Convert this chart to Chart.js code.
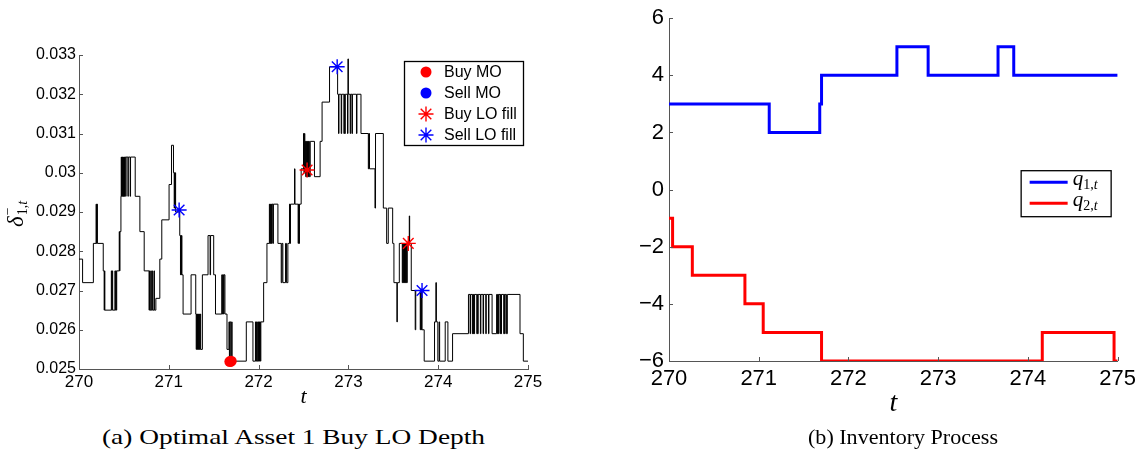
<!DOCTYPE html>
<html>
<head>
<meta charset="utf-8">
<script src="https://cdn.jsdelivr.net/npm/chart.js@4.4.1/dist/chart.umd.min.js"></script>
<style>
body { margin: 0; background: #fff; }
#wrap { position: relative; width: 1141px; height: 457px; overflow: hidden; background: #fff; }
canvas { position: absolute; top: 0; }
.cap { position: absolute; top: 427px; font: 21px "Liberation Serif", serif; line-height: 21px; white-space: nowrap; transform-origin: 0 0; color: #000; }
</style>
</head>
<body>
<div id="wrap">
    <canvas id="depth-chart" width="560" height="410" style="left:0px"></canvas>
    <canvas id="inv-chart" width="551" height="430" style="left:590px"></canvas>
    <div class="cap" id="cap-a">(a) Optimal Asset 1 Buy LO Depth</div>
    <div class="cap" id="cap-b">(b) Inventory Process</div>
</div>
<script>
// ---- data ----
// optimal buy depth, step path: [t, value held from t on]
var depthSteps = [
    [270.000, 0.0278], [270.040, 0.0272], [270.160, 0.0282], [270.190, 0.0292], [270.195, 0.0282],
    [270.200, 0.0292], [270.205, 0.0282], [270.270, 0.0275], [270.280, 0.0265], [270.284, 0.0275],
    [270.288, 0.0265], [270.360, 0.0275], [270.365, 0.0265], [270.370, 0.0275], [270.375, 0.0265],
    [270.400, 0.0275], [270.405, 0.0265], [270.410, 0.0275], [270.415, 0.0265], [270.420, 0.0275],
    [270.448, 0.0285], [270.452, 0.0275], [270.456, 0.0285], [270.467, 0.0294], [270.470, 0.0304],
    [270.474, 0.0294], [270.478, 0.0304], [270.482, 0.0294], [270.486, 0.0304], [270.490, 0.0294],
    [270.494, 0.0304], [270.498, 0.0294], [270.502, 0.0304], [270.506, 0.0294], [270.510, 0.0304],
    [270.520, 0.0294], [270.524, 0.0304], [270.545, 0.0294], [270.549, 0.0304], [270.570, 0.0294],
    [270.574, 0.0304], [270.626, 0.0294], [270.678, 0.0285], [270.726, 0.0275], [270.780, 0.0265],
    [270.785, 0.0275], [270.790, 0.0265], [270.800, 0.0275], [270.805, 0.0265], [270.815, 0.0275],
    [270.820, 0.0265], [270.835, 0.0275], [270.840, 0.0265], [270.856, 0.0268], [270.900, 0.0278],
    [270.922, 0.0288], [271.003, 0.0297], [271.030, 0.0307], [271.052, 0.0300], [271.060, 0.0291],
    [271.064, 0.0300], [271.068, 0.0291], [271.072, 0.0300], [271.076, 0.0290], [271.122, 0.0284],
    [271.130, 0.0274], [271.134, 0.0284], [271.138, 0.0274], [271.142, 0.0284], [271.146, 0.0274],
    [271.159, 0.0264], [271.248, 0.0274], [271.300, 0.0264], [271.305, 0.0255], [271.310, 0.0264],
    [271.315, 0.0255], [271.320, 0.0264], [271.325, 0.0255], [271.330, 0.0264], [271.335, 0.0255],
    [271.340, 0.0264], [271.345, 0.0255], [271.350, 0.0264], [271.355, 0.0255], [271.374, 0.0274],
    [271.437, 0.0284], [271.460, 0.0274], [271.465, 0.0284], [271.500, 0.0274], [271.520, 0.0264],
    [271.590, 0.0274], [271.595, 0.0264], [271.600, 0.0274], [271.610, 0.0264], [271.615, 0.0274],
    [271.625, 0.0264], [271.648, 0.0255], [271.670, 0.0262], [271.675, 0.0252], [271.680, 0.0262],
    [271.690, 0.0252], [271.700, 0.0262], [271.705, 0.0252], [271.863, 0.0262], [271.937, 0.0252],
    [271.965, 0.0262], [271.970, 0.0252], [271.975, 0.0262], [271.980, 0.0252], [271.990, 0.0262],
    [271.995, 0.0252], [272.000, 0.0262], [272.005, 0.0252], [272.010, 0.0262], [272.020, 0.0252],
    [272.025, 0.0262], [272.056, 0.0272], [272.093, 0.0282], [272.120, 0.0292], [272.125, 0.0282],
    [272.130, 0.0292], [272.135, 0.0282], [272.140, 0.0292], [272.145, 0.0282], [272.150, 0.0292],
    [272.160, 0.0282], [272.165, 0.0292], [272.215, 0.0282], [272.252, 0.0272], [272.260, 0.0282],
    [272.270, 0.0272], [272.300, 0.0282], [272.310, 0.0272], [272.326, 0.0282], [272.344, 0.0292],
    [272.350, 0.0282], [272.355, 0.0292], [272.400, 0.0301], [272.405, 0.0292], [272.440, 0.0282],
    [272.445, 0.0292], [272.450, 0.0282], [272.455, 0.0292], [272.474, 0.0301], [272.500, 0.0310],
    [272.505, 0.0300], [272.510, 0.0310], [272.515, 0.0300], [272.520, 0.0308], [272.525, 0.0299],
    [272.530, 0.0308], [272.535, 0.0299], [272.540, 0.0308], [272.545, 0.0299], [272.550, 0.0308],
    [272.555, 0.0299], [272.560, 0.0308], [272.565, 0.0299], [272.575, 0.0308], [272.622, 0.0299],
    [272.685, 0.0308], [272.707, 0.0318], [272.790, 0.0327], [272.880, 0.0320], [272.890, 0.0310],
    [272.895, 0.0320], [272.920, 0.0310], [272.925, 0.0320], [272.950, 0.0310], [272.955, 0.0320],
    [272.960, 0.0310], [272.965, 0.0320], [272.990, 0.0310], [272.995, 0.0329], [273.000, 0.0320],
    [273.020, 0.0310], [273.025, 0.0320], [273.040, 0.0310], [273.045, 0.0320], [273.090, 0.0310],
    [273.095, 0.0320], [273.140, 0.0310], [273.222, 0.0301], [273.228, 0.0310], [273.235, 0.0301],
    [273.296, 0.0291], [273.302, 0.0310], [273.389, 0.0291], [273.426, 0.0282], [273.444, 0.0291],
    [273.493, 0.0282], [273.507, 0.0272], [273.540, 0.0262], [273.545, 0.0272], [273.567, 0.0282],
    [273.600, 0.0272], [273.605, 0.0282], [273.610, 0.0272], [273.615, 0.0282], [273.620, 0.0272],
    [273.625, 0.0282], [273.630, 0.0272], [273.635, 0.0282], [273.640, 0.0272], [273.645, 0.0282],
    [273.650, 0.0272], [273.655, 0.0282], [273.678, 0.0289], [273.682, 0.0282], [273.700, 0.0270],
    [273.744, 0.0260], [273.750, 0.0270], [273.800, 0.0260], [273.805, 0.0270], [273.810, 0.0260],
    [273.815, 0.0270], [273.820, 0.0260], [273.844, 0.0252], [273.959, 0.0262], [273.974, 0.0272],
    [273.980, 0.0262], [273.996, 0.0252], [274.011, 0.0262], [274.016, 0.0252], [274.078, 0.0262],
    [274.108, 0.0252], [274.160, 0.0259], [274.337, 0.0269], [274.355, 0.0259], [274.360, 0.0269],
    [274.380, 0.0259], [274.385, 0.0269], [274.390, 0.0259], [274.395, 0.0269], [274.400, 0.0259],
    [274.405, 0.0269], [274.430, 0.0259], [274.435, 0.0269], [274.440, 0.0259], [274.445, 0.0269],
    [274.470, 0.0259], [274.475, 0.0269], [274.500, 0.0259], [274.505, 0.0269], [274.530, 0.0259],
    [274.535, 0.0269], [274.560, 0.0259], [274.565, 0.0269], [274.600, 0.0259], [274.650, 0.0269],
    [274.660, 0.0259], [274.665, 0.0269], [274.670, 0.0259], [274.675, 0.0269], [274.690, 0.0259],
    [274.695, 0.0269], [274.700, 0.0259], [274.705, 0.0269], [274.730, 0.0259], [274.735, 0.0269],
    [274.740, 0.0259], [274.745, 0.0269], [274.760, 0.0259], [274.770, 0.0269], [274.911, 0.0259],
    [274.948, 0.0252], [275.000, 0.0252]
];

// trade markers
var buyMoT = [271.680, 271.695];
var buyMoV = [0.02519, 0.0252];
var sellMoT = [];
var sellMoV = [];
var buyLoT = [272.540, 273.667];
var buyLoV = [0.03007, 0.0282];
var sellLoT = [271.115, 272.875, 273.820];
var sellLoV = [0.02905, 0.0327, 0.0270];

var depthTickLabels = ["0.025", "0.026", "0.027", "0.028", "0.029", "0.03", "0.031", "0.032", "0.033"];

// inventories
var q1T = [270, 271.117, 271.68, 271.70, 272.54, 272.888, 273.667, 273.842, 275];
var q1V = [3, 2, 3, 4, 5, 4, 5, 4, 4];
var q2T = [270, 270.04, 270.26, 270.846, 271.05, 271.70, 274.16, 274.96, 275];
var q2V = [-1, -2, -3, -4, -5, -6, -5, -6, -6];

var invTickLabels = ["\u22126", "\u22124", "\u22122", "0", "2", "4", "6"];

var AXIS_COLOR = "#555555";

function toPoints(ts, vs) {
    var out = [];
    for (var i = 0; i < ts.length; i++) {
        out.push({ x: ts[i], y: vs[i] });
    }
    return out;
}

// matlab style ticks pointing into the axes
var insideTicks = {
    id: "insideTicks",
    afterDraw: function (chart) {
        var ctx = chart.ctx;
        var area = chart.chartArea;
        var xs = chart.scales.x;
        var ys = chart.scales.y;
        ctx.save();
        ctx.strokeStyle = AXIS_COLOR;
        ctx.lineWidth = 1;
        ctx.beginPath();
        xs.ticks.forEach(function (t) {
            var px = Math.round(xs.getPixelForValue(t.value)) + 0.5;
            ctx.moveTo(px, area.bottom);
            ctx.lineTo(px, area.bottom - 4);
        });
        ys.ticks.forEach(function (t) {
            var py = Math.round(ys.getPixelForValue(t.value)) + 0.5;
            ctx.moveTo(area.left, py);
            ctx.lineTo(area.left + 4, py);
        });
        ctx.stroke();
        ctx.restore();
    }
};

function drawMarker(ctx, ds, x, y) {
    var r = ds.pointRadius;
    ctx.save();
    ctx.strokeStyle = ds.borderColor;
    ctx.fillStyle = ds.backgroundColor;
    ctx.lineWidth = ds.borderWidth || 1;
    ctx.beginPath();
    if (ds.pointStyle === "star") {
        ctx.moveTo(x - r, y); ctx.lineTo(x + r, y);
        ctx.moveTo(x, y - r); ctx.lineTo(x, y + r);
        var d = r * Math.SQRT1_2;
        ctx.moveTo(x - d, y - d); ctx.lineTo(x + d, y + d);
        ctx.moveTo(x - d, y + d); ctx.lineTo(x + d, y - d);
        ctx.stroke();
    } else {
        ctx.arc(x, y, r, 0, Math.PI * 2);
        ctx.fill();
    }
    ctx.restore();
}

// legend box + delta axis label for chart (a)
var depthDecor = {
    id: "depthDecor",
    afterDraw: function (chart) {
        var ctx = chart.ctx;
        var a = chart.chartArea;
        var bx = a.right - 124, by = a.top + 6, bw = 119, bh = 84;
        ctx.save();
        ctx.fillStyle = "#fff";
        ctx.fillRect(bx, by, bw, bh);
        ctx.strokeStyle = "#000";
        ctx.lineWidth = 1.3;
        ctx.strokeRect(bx + 0.5, by + 0.5, bw, bh);
        ctx.font = '16px "Liberation Sans"';
        ctx.textBaseline = "middle";
        ctx.fillStyle = "#000";
        var row = 0;
        chart.data.datasets.forEach(function (ds) {
            if (!ds.inLegend) return;
            var yy = by + 11 + row * 21;
            drawMarker(ctx, ds, bx + 22, yy);
            ctx.fillStyle = "#000";
            ctx.fillText(ds.label, bx + 40, yy + 1);
            row++;
        });

        // delta^-_{1,t}, rotated
        ctx.translate(23, 212);
        ctx.rotate(-Math.PI / 2);
        ctx.textBaseline = "alphabetic";
        ctx.font = 'italic 23px "Liberation Serif"';
        ctx.fillText("\u03b4", -15, 0);
        var sx = -15 + ctx.measureText("\u03b4").width + 1;
        ctx.font = '14px "Liberation Serif"';
        ctx.fillText("\u2212", sx, -11);
        ctx.fillText("1,", sx, 4);
        var w1 = ctx.measureText("1,").width;
        ctx.font = 'italic 14px "Liberation Serif"';
        ctx.fillText("t", sx + w1, 4);
        ctx.restore();
    }
};

// legend box for chart (b)
var invDecor = {
    id: "invDecor",
    afterDraw: function (chart) {
        var ctx = chart.ctx;
        var a = chart.chartArea;
        var bx = a.right - 97, by = a.top + 152, bw = 90, bh = 46;
        ctx.save();
        ctx.fillStyle = "#fff";
        ctx.fillRect(bx, by, bw, bh);
        ctx.strokeStyle = "#000";
        ctx.lineWidth = 1.3;
        ctx.strokeRect(bx + 0.5, by + 0.5, bw, bh);
        chart.data.datasets.forEach(function (ds, i) {
            var yy = by + 12 + i * 21;
            ctx.strokeStyle = ds.borderColor;
            ctx.lineWidth = 3;
            ctx.beginPath();
            ctx.moveTo(bx + 9, yy);
            ctx.lineTo(bx + 47, yy);
            ctx.stroke();
            ctx.fillStyle = "#000";
            ctx.textBaseline = "alphabetic";
            ctx.font = 'italic 21px "Liberation Serif"';
            ctx.fillText("q", bx + 52, yy + 3);
            var sx = bx + 52 + ctx.measureText("q").width;
            ctx.font = '14px "Liberation Serif"';
            ctx.fillText(ds.sub + ",", sx, yy + 7);
            var w = ctx.measureText(ds.sub + ",").width;
            ctx.font = 'italic 14px "Liberation Serif"';
            ctx.fillText("t", sx + w, yy + 7);
        });
        ctx.restore();
    }
};

var depthChart = new Chart(document.getElementById("depth-chart").getContext("2d"), {
    type: "line",
    data: {
        datasets: [
            {
                label: "Buy MO", type: "scatter", inLegend: true, order: 1,
                data: toPoints(buyMoT, buyMoV),
                pointStyle: "circle", pointRadius: 5.5, borderWidth: 0,
                backgroundColor: "#ff0000", borderColor: "#ff0000"
            },
            {
                label: "Sell MO", type: "scatter", inLegend: true, order: 1,
                data: toPoints(sellMoT, sellMoV),
                pointStyle: "circle", pointRadius: 5.5, borderWidth: 0,
                backgroundColor: "#0000ff", borderColor: "#0000ff"
            },
            {
                label: "Buy LO fill", type: "scatter", inLegend: true, order: 1,
                data: toPoints(buyLoT, buyLoV),
                pointStyle: "star", pointRadius: 7.5, borderWidth: 1.4,
                backgroundColor: "#ff0000", borderColor: "#ff0000"
            },
            {
                label: "Sell LO fill", type: "scatter", inLegend: true, order: 1,
                data: toPoints(sellLoT, sellLoV),
                pointStyle: "star", pointRadius: 7.5, borderWidth: 1.4,
                backgroundColor: "#0000ff", borderColor: "#0000ff"
            },
            {
                label: "depth", order: 2,
                data: depthSteps.map(function (p) { return { x: p[0], y: p[1] }; }),
                borderColor: "#000000", borderWidth: 1, stepped: true,
                pointRadius: 0, fill: false
            }
        ]
    },
    options: {
        responsive: false,
        animation: false,
        layout: { padding: { left: 0, right: 32, top: 55, bottom: 0 } },
        scales: {
            x: {
                type: "linear", min: 270, max: 275,
                ticks: { stepSize: 1, padding: 3, color: "#000", font: { family: "Liberation Sans", size: 17 } },
                grid: { display: false, drawTicks: false },
                border: { display: true, color: AXIS_COLOR, width: 1 },
                title: { display: true, text: "t", color: "#000", padding: { top: 0, bottom: 0 },
                    font: { family: "Liberation Serif", style: "italic", size: 22 } },
                afterFit: function (s) { s.height = 41; }
            },
            y: {
                type: "linear", min: 0.025, max: 0.033,
                ticks: {
                    stepSize: 0.001, padding: 3, color: "#000",
                    font: { family: "Liberation Sans", size: 16 },
                    callback: function (v, i) { return depthTickLabels[i]; }
                },
                grid: { display: false, drawTicks: false },
                border: { display: true, color: AXIS_COLOR, width: 1 },
                afterFit: function (s) { s.width = 79; }
            }
        },
        plugins: { legend: { display: false }, tooltip: { enabled: false } }
    },
    plugins: [insideTicks, depthDecor]
});

var invChart = new Chart(document.getElementById("inv-chart").getContext("2d"), {
    type: "line",
    data: {
        datasets: [
            {
                label: "q1", sub: "1",
                data: toPoints(q1T, q1V),
                borderColor: "#0000ff", borderWidth: 3, stepped: true, pointRadius: 0, fill: false
            },
            {
                label: "q2", sub: "2",
                data: toPoints(q2T, q2V),
                borderColor: "#ff0000", borderWidth: 3, stepped: true, pointRadius: 0, fill: false
            }
        ]
    },
    options: {
        responsive: false,
        animation: false,
        layout: { padding: { left: 0, right: 23, top: 11, bottom: 0 } },
        scales: {
            x: {
                type: "linear", min: 270, max: 275,
                ticks: { stepSize: 1, padding: 5, color: "#000", font: { family: "Liberation Sans", size: 22 } },
                grid: { display: false, drawTicks: false },
                border: { display: true, color: AXIS_COLOR, width: 1 },
                title: { display: true, text: "t", color: "#000", padding: { top: 0, bottom: 10 },
                    font: { family: "Liberation Serif", style: "italic", size: 28 } },
                afterFit: function (s) { s.height = 69; }
            },
            y: {
                type: "linear", min: -6, max: 6,
                ticks: {
                    stepSize: 2, padding: 5, color: "#000",
                    font: { family: "Liberation Sans", size: 22 },
                    callback: function (v, i) { return invTickLabels[i]; }
                },
                grid: { display: false, drawTicks: false },
                border: { display: true, color: AXIS_COLOR, width: 1 },
                afterFit: function (s) { s.width = 79; }
            }
        },
        plugins: { legend: { display: false }, tooltip: { enabled: false } }
    },
    plugins: [insideTicks, invDecor]
});

// stretch captions to the width they take in the figure
function fitCaption(id, left, right) {
    var el = document.getElementById(id);
    var w = el.getBoundingClientRect().width;
    el.style.left = left + "px";
    el.style.transform = "scaleX(" + ((right - left) / w) + ")";
}
fitCaption("cap-a", 102, 485);
fitCaption("cap-b", 808, 998);
</script>
</body>
</html>
